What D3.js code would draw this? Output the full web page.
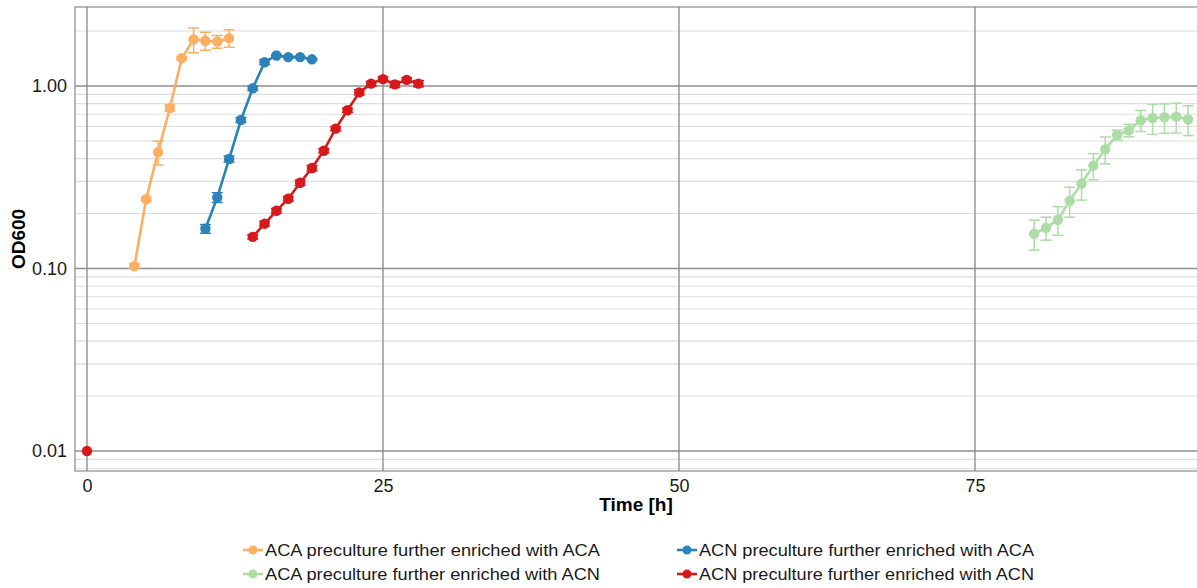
<!DOCTYPE html>
<html>
<head>
<meta charset="utf-8">
<script src="https://cdn.jsdelivr.net/npm/d3@7"></script>
<style>
  body { margin: 0; background: #ffffff; }
  svg { display: block; font-family: "Liberation Sans", Arial, sans-serif; }
</style>
</head>
<body>
<div id="chart"></div>
<script>
// ACA preculture further enriched with ACA
const timeAcaAca = [4, 5, 6, 7, 8, 9, 10, 11, 12];
const odAcaAca = [0.103, 0.240, 0.434, 0.757, 1.42, 1.80, 1.77, 1.75, 1.83];
const sdAcaAca = [0.003, 0.006, 0.065, 0.03, 0.03, 0.28, 0.20, 0.14, 0.20];

// ACN preculture further enriched with ACA
const timeAcnAca = [10, 11, 12, 13, 14, 15, 16, 17, 18, 19];
const odAcnAca = [0.165, 0.245, 0.398, 0.651, 0.971, 1.35, 1.47, 1.44, 1.44, 1.40];
const sdAcnAca = [0.009, 0.015, 0.015, 0.02, 0.025, 0.04, 0.01, 0.01, 0.01, 0.01];

// ACA preculture further enriched with ACN
const timeAcaAcn = [80, 81, 82, 83, 84, 85, 86, 87, 88, 89, 90, 91, 92, 93];
const odAcaAcn = [0.155, 0.167, 0.185, 0.235, 0.292, 0.366, 0.450, 0.539, 0.572, 0.649, 0.668, 0.674, 0.679, 0.657];
const sdAcaAcn = [0.029, 0.024, 0.033, 0.044, 0.055, 0.060, 0.076, 0.034, 0.045, 0.086, 0.125, 0.123, 0.126, 0.122];

// ACN preculture further enriched with ACN (t = 0 is the inoculum, not joined to the curve)
const timeAcnAcn = [0, 14, 15, 16, 17, 18, 19, 20, 21, 22, 23, 24, 25, 26, 27, 28];
const odAcnAcn = [0.01, 0.149, 0.176, 0.207, 0.241, 0.295, 0.355, 0.442, 0.584, 0.736, 0.923, 1.03, 1.09, 1.02, 1.08, 1.03];
const sdAcnAcn = [0, 0.004, 0.005, 0.006, 0.007, 0.01, 0.012, 0.012, 0.015, 0.02, 0.03, 0.03, 0.03, 0.04, 0.03, 0.04];

const seriesLabels = [
  'ACA preculture further enriched with ACA',
  'ACN preculture further enriched with ACA',
  'ACA preculture further enriched with ACN',
  'ACN preculture further enriched with ACN',
];
const seriesColors = ['#fdae61', '#2b83ba', '#abdda4', '#d7191c'];

const xTicks = [0, 25, 50, 75];
const yTicks = [0.01, 0.1, 1];
const xDomain = [-1.013, 93.75];
const yDomain = [0.007769, 2.709];

const series = [
  { time: timeAcaAca, od: odAcaAca, sd: sdAcaAca },
  { time: timeAcnAca, od: odAcnAca, sd: sdAcnAca },
  { time: timeAcaAcn, od: odAcaAcn, sd: sdAcaAcn },
  { time: timeAcnAcn, od: odAcnAcn, sd: sdAcnAcn },
].map((s, i) => ({
  label: seriesLabels[i],
  color: seriesColors[i],
  points: s.time.map((t, j) => ({ t, v: s.od[j], sd: s.sd[j] })),
}));

const width = 1197;
const height = 588;
const panel = { left: 75, top: 7, right: 1197, bottom: 471 };

const textColor = '#1a1a1a';
const majorGrid = '#8f8f8f';
const minorGrid = '#dedede';
const fontFamily = 'Liberation Sans, Arial, sans-serif';

const x = d3.scaleLinear().domain(xDomain).range([panel.left, panel.right]);
const y = d3.scaleLog().domain(yDomain).range([panel.bottom, panel.top]);

const svg = d3
  .select('#chart')
  .append('svg')
  .attr('width', width)
  .attr('height', height)
  .style('background', '#ffffff');

/* Minor grid: 2..9 in each decade */
const minorValues = [];
[-3, -2, -1, 0].forEach((e) => {
  for (let m = 2; m <= 9; m++) {
    const v = m * Math.pow(10, e);
    if (v > yDomain[0] && v < yDomain[1]) minorValues.push(v);
  }
});

svg
  .append('g')
  .attr('class', 'grid-minor')
  .selectAll('line')
  .data(minorValues)
  .join('line')
  .attr('x1', panel.left)
  .attr('x2', panel.right)
  .attr('y1', (d) => y(d))
  .attr('y2', (d) => y(d))
  .attr('stroke', minorGrid)
  .attr('stroke-width', 1.1);

/* Major grid */
const gridG = svg.append('g').attr('class', 'grid-major');
gridG
  .selectAll('line.h')
  .data(yTicks)
  .join('line')
  .attr('class', 'h')
  .attr('x1', panel.left)
  .attr('x2', panel.right)
  .attr('y1', (d) => y(d))
  .attr('y2', (d) => y(d))
  .attr('stroke', majorGrid)
  .attr('stroke-width', 1.4);

gridG
  .selectAll('line.v')
  .data(xTicks)
  .join('line')
  .attr('class', 'v')
  .attr('x1', (d) => x(d))
  .attr('x2', (d) => x(d))
  .attr('y1', panel.top)
  .attr('y2', panel.bottom)
  .attr('stroke', majorGrid)
  .attr('stroke-width', 1.4);

/* Panel border */
svg
  .append('rect')
  .attr('x', panel.left)
  .attr('y', panel.top)
  .attr('width', panel.right - panel.left + 10)
  .attr('height', panel.bottom - panel.top)
  .attr('fill', 'none')
  .attr('stroke', '#8a8a8a')
  .attr('stroke-width', 1.2);

/* Axes (labels only) */
const xAxis = svg
  .append('g')
  .attr('transform', `translate(0,${panel.bottom})`)
  .call(d3.axisBottom(x).tickValues(xTicks).tickSize(0).tickPadding(8).tickFormat(d3.format('d')));
xAxis.select('.domain').remove();
xAxis
  .selectAll('text')
  .attr('fill', textColor)
  .style('font-size', '18px')
  .style('font-family', fontFamily);

const yAxis = svg
  .append('g')
  .attr('transform', `translate(${panel.left},0)`)
  .call(d3.axisLeft(y).tickValues(yTicks).tickSize(0).tickPadding(8).tickFormat(d3.format('.2f')));
yAxis.select('.domain').remove();
yAxis
  .selectAll('text')
  .attr('fill', textColor)
  .style('font-size', '18px')
  .style('font-family', fontFamily);

/* Axis titles */
svg
  .append('text')
  .attr('x', (panel.left + panel.right) / 2)
  .attr('y', 511)
  .attr('text-anchor', 'middle')
  .attr('fill', '#000')
  .attr('font-size', 19)
  .attr('font-weight', 700)
  .text('Time [h]');

svg
  .append('text')
  .attr('transform', `translate(25,${(panel.top + panel.bottom) / 2}) rotate(-90)`)
  .attr('text-anchor', 'middle')
  .attr('fill', '#000')
  .attr('font-size', 19)
  .attr('font-weight', 700)
  .text('OD600');

/* Series */
const line = d3
  .line()
  .defined((d) => d.t > 0)
  .x((d) => x(d.t))
  .y((d) => y(d.v));

const capHalf = 5.5;
const plotG = svg.append('g');

series.forEach((s) => {
  const g = plotG.append('g');
  const withErr = s.points.filter((p) => p.sd > 0);

  g.selectAll('line.err')
    .data(withErr)
    .join('line')
    .attr('class', 'err')
    .attr('x1', (d) => x(d.t))
    .attr('x2', (d) => x(d.t))
    .attr('y1', (d) => y(d.v + d.sd))
    .attr('y2', (d) => y(d.v - d.sd))
    .attr('stroke', s.color)
    .attr('stroke-width', 1.5);

  ['top', 'bot'].forEach((end) => {
    g.selectAll(`line.cap-${end}`)
      .data(withErr)
      .join('line')
      .attr('class', `cap-${end}`)
      .attr('x1', (d) => x(d.t) - capHalf)
      .attr('x2', (d) => x(d.t) + capHalf)
      .attr('y1', (d) => y(end === 'top' ? d.v + d.sd : d.v - d.sd))
      .attr('y2', (d) => y(end === 'top' ? d.v + d.sd : d.v - d.sd))
      .attr('stroke', s.color)
      .attr('stroke-width', 1.5);
  });

  g.append('path')
    .datum(s.points)
    .attr('fill', 'none')
    .attr('stroke', s.color)
    .attr('stroke-width', 2.6)
    .attr('d', line);

  g.selectAll('circle')
    .data(s.points)
    .join('circle')
    .attr('cx', (d) => x(d.t))
    .attr('cy', (d) => y(d.v))
    .attr('r', 5.2)
    .attr('fill', s.color);
});

/* Legend */
const legendPos = [
  [243, 550],
  [677, 550],
  [243, 574],
  [677, 574],
];

const legend = svg.append('g').attr('class', 'legend');
series.forEach((s, i) => {
  const [lx, ly] = legendPos[i];
  const item = legend.append('g').attr('transform', `translate(${lx},${ly})`);
  item
    .append('line')
    .attr('x1', 0)
    .attr('x2', 20)
    .attr('stroke', s.color)
    .attr('stroke-width', 2.6);
  item.append('circle').attr('cx', 10).attr('r', 4.5).attr('fill', s.color);
  item
    .append('text')
    .attr('x', 22)
    .attr('dy', '0.36em')
    .attr('fill', textColor)
    .attr('font-size', 16.5)
    .attr('textLength', 335)
    .attr('lengthAdjust', 'spacingAndGlyphs')
    .text(s.label);
});
</script>
</body>
</html>
